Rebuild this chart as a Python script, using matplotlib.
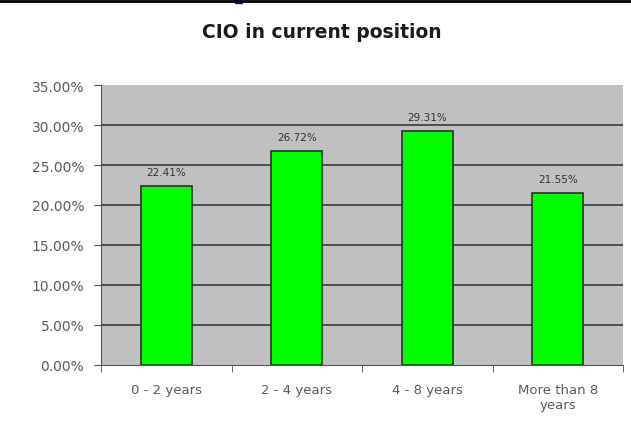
import matplotlib
matplotlib.use("Agg")
import matplotlib.pyplot as plt
import matplotlib.patches as mpatches
from matplotlib.lines import Line2D
import numpy as np

# Data
categories = ["0 - 2 years", "2 - 4 years", "4 - 8 years", "More than 8\nyears"]
shares = [22.41, 26.72, 29.31, 21.55]
y_ticks = [0, 5, 10, 15, 20, 25, 30, 35]

PLOT_BG = "#c0c0c0"
BAR_GREEN = "#00ff00"
GRID_DARK = "#3a3a3a"
TEXT_GREY = "#5a5a5a"

fig = plt.figure(figsize=(6.31, 4.27), dpi=100)
fig.patch.set_facecolor("white")
ax = fig.add_axes([101 / 631, 1 - 366 / 427, 522 / 631, 280 / 427])
ax.set_facecolor(PLOT_BG)

x = np.arange(len(categories))
bars = ax.bar(x, shares, width=0.39, color=BAR_GREEN, edgecolor="#1a3a1a",
              linewidth=1.2, zorder=3)
for bar, val in zip(bars, shares):
    ax.text(bar.get_x() + bar.get_width() / 2, bar.get_height() + 1.1,
            f"{val:.2f}%", ha="center", va="bottom", fontsize=7.5,
            color="#333333", zorder=4)

ax.set_xlim(-0.5, len(categories) - 0.5)
ax.set_ylim(0, 35)
ax.set_yticks(y_ticks)
ax.set_yticklabels([f"{t:.2f}%" for t in y_ticks], fontsize=10, color=TEXT_GREY)
for t in y_ticks[1:-1]:
    ax.axhline(t, color=GRID_DARK, linewidth=1.2, zorder=1)

ax.set_xticks(x)
ax.set_xticklabels(categories, fontsize=9.5, color=TEXT_GREY)
ax.tick_params(axis="x", length=0, pad=13)
ax.set_xticks(np.arange(-0.5, len(categories)), minor=True)
ax.tick_params(axis="x", which="minor", length=5, color="#555555", direction="out")
ax.tick_params(axis="y", length=5, color="#555555", direction="out", pad=7)

for side in ["top", "right"]:
    ax.spines[side].set_visible(False)
ax.spines["left"].set_color("#555555")
ax.spines["bottom"].set_color("#555555")

fig.text(322 / 631, 1 - 33 / 427, "CIO in current position", ha="center",
         va="center", fontsize=13.5, fontweight="bold", color="#1a1a1a")

# page border remnants
fig.add_artist(Line2D([0, 1], [1 - 1.5 / 427, 1 - 1.5 / 427],
                      transform=fig.transFigure, color="black", linewidth=2))
fig.add_artist(mpatches.Rectangle((235 / 631, 1 - 4 / 427), 7 / 631, 4 / 427,
                                  transform=fig.transFigure, color="#0000ee"))

plt.savefig("out.png", dpi=100, facecolor="white")
plt.close()
